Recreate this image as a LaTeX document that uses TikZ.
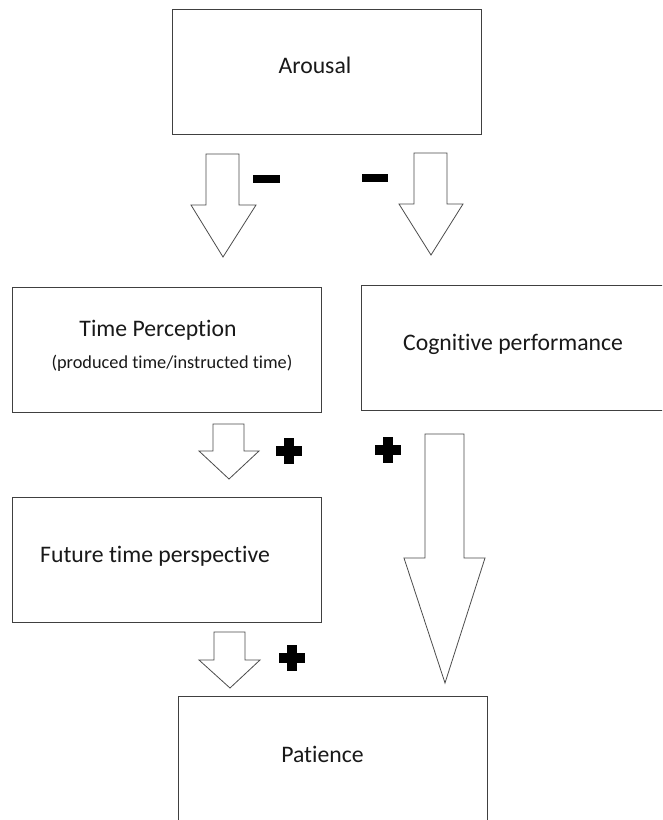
\documentclass[tikz,border=0pt]{standalone}
\usepackage{fontspec}
\setmainfont{Carlito}[Ligatures=NoCommon]
\tikzset{
  box/.style={draw=black!75, line width=1pt, minimum width=309pt, minimum height=125pt, inner sep=0pt},
  lbl/.style={anchor=base, inner sep=0pt, text=black!90, font=\fontsize{23.7}{26}\selectfont},
  sublbl/.style={anchor=base, inner sep=0pt, text=black!90, font=\fontsize{18.3}{21}\selectfont},
  blockarrow/.style={draw=black!70, fill=white, line width=0.8pt, line join=miter},
}
\begin{document}
\begin{tikzpicture}[x=1pt, y=-1pt]
            \clip (0,0) rectangle (662,820);
            \fill[white] (0,0) rectangle (662,820);

            % boxes
            \node[box] (arousal)   at (326.5,71.5) {};
            \node[box] (timeperc)  at (166.5,349.5) {};
            \node[box] (cognitive) at (515.5,348) {};
            \node[box] (future)    at (166.5,559.5) {};
            \node[box] (patience)  at (332.5,758.5) {};

            \node[lbl] (arousal-txt) at (315,73) {Arousal};
            \node[lbl] (timeperc-txt) at (158,336) {Time Perception};
            \node[sublbl] (timeperc-sub) at (172,368) {(produced time/instructed time)};
            \node[lbl] (cognitive-txt) at (513,350) {Cognitive performance};
            \node[lbl] (future-txt) at (155,562) {Future time perspective};
            \node[lbl] (patience-txt) at (322.5,762) {Patience};

            % block arrows
            \draw[blockarrow] (206,154) -- (239,154) -- (239,205) -- (256,205) -- (223,257) -- (191,205) -- (206,205) -- cycle;
            \draw[blockarrow] (414,153) -- (447,153) -- (447,204) -- (463,204) -- (431,255) -- (399,204) -- (414,204) -- cycle;
            \draw[blockarrow] (213,424) -- (244,424) -- (244,451) -- (259,451) -- (229,479) -- (199,451) -- (213,451) -- cycle;
            \draw[blockarrow] (214,632) -- (245,632) -- (245,660) -- (260,660) -- (230,688) -- (199,660) -- (214,660) -- cycle;
            \draw[blockarrow] (425,434) -- (464,434) -- (464,558) -- (485,558) -- (445,683) -- (404,558) -- (425,558) -- cycle;

            % signs
            \fill[black] (253,175) rectangle (280,183);
            \fill[black] (362,174) rectangle (388,182);

            \fill[black] (276,446) rectangle (302,456);
            \fill[black] (284,438) rectangle (294,464);
            \fill[black] (375,445) rectangle (401,455);
            \fill[black] (383,437) rectangle (393,463);
            \fill[black] (279,653) rectangle (305,663);
            \fill[black] (287,645) rectangle (297,671);
        \end{tikzpicture}
\end{document}
